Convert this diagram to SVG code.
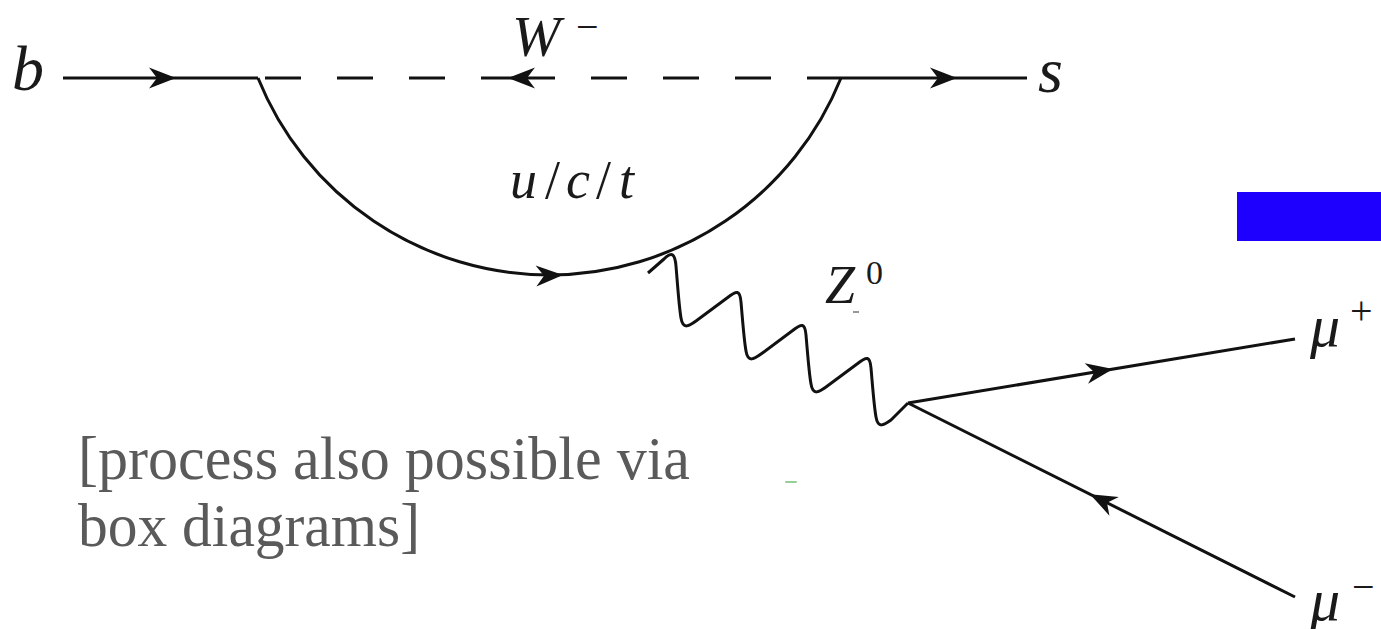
<svg xmlns="http://www.w3.org/2000/svg" xmlns:xlink="http://www.w3.org/1999/xlink" width="1381" height="629" viewBox="0 0 1381 629">
<style>
.ln{fill:none;stroke:#111;stroke-width:3;stroke-linecap:butt;stroke-linejoin:round}
.ah{fill:#111;stroke:none}
text{font-family:'Liberation Serif','Times New Roman',serif}
.m{font-style:italic;fill:#1a1a1a}
.up{font-style:normal;fill:#1a1a1a}
.note{fill:#5a5a5a;font-size:62px}
</style>
<defs>
<path id="ah" d="M0,0 L-27,-10.5 L-19,0 L-27,10.5 Z"/>
</defs>
<rect width="1381" height="629" fill="#fff"/>
<g id="connectors">
<line class="ln" x1="63" y1="78" x2="258" y2="78"/>
<line class="ln" x1="841" y1="78" x2="1027" y2="78"/>
<path class="ln" d="M265,78 H301 M337,78 H373 M409,78 H445 M481,78 H555 M591,78 H627 M663,78 H699 M735,78 H771 M807,78 H841"/>
<path class="ln" d="M258,78 A314.2,314.2 0 0 0 841,78"/>
<path class="ln" d="M648,273 L664,259 C672,251 675,254 676,266 C678,290 679,306 681,318 C683,330 689,326 696,321 L727,298 C737,290 740,290 741,302 C743,325 744,340 746,351 C748,363 754,359 761,354 L792,331 C802,323 805,323 806,335 C808,358 809,373 811,384 C813,396 819,392 826,387 L857,364 C867,356 870,356 871,368 C873,391 874,406 876,417 C878,429 884,425 891,420 L908,403"/>
<line class="ln" x1="908" y1="403" x2="1295" y2="339"/>
<line class="ln" x1="908" y1="403" x2="1295" y2="597"/>
<use class="ah" xlink:href="#ah" transform="translate(176,78)"/>
<use class="ah" xlink:href="#ah" transform="translate(508,78) rotate(180)"/>
<use class="ah" xlink:href="#ah" transform="translate(957,78)"/>
<use class="ah" xlink:href="#ah" transform="translate(563,274.9) rotate(-2.3)"/>
<use class="ah" xlink:href="#ah" transform="translate(1113,369.1) rotate(-9.4)"/>
<use class="ah" xlink:href="#ah" transform="translate(1090,494.2) rotate(206.6)"/>
</g>
<g id="label-b"><text class="m" x="12" y="90" font-size="64">b</text></g>
<g id="label-W"><text class="m" x="512" y="56" font-size="58">W</text><text class="up" x="576" y="40" font-size="40">−</text></g>
<g id="label-s"><text class="m" x="1038" y="92" font-size="64">s</text></g>
<g id="label-uct"><text x="510" y="198" font-size="54"><tspan class="m">u</tspan><tspan class="up" dx="8">/</tspan><tspan class="m" dx="6">c</tspan><tspan class="up" dx="6">/</tspan><tspan class="m" dx="8">t</tspan></text></g>
<g id="label-Z"><text class="m" x="825" y="303" font-size="54">Z</text><text class="up" x="866" y="284" font-size="34">0</text><rect x="853" y="311" width="6" height="2" fill="#999"/></g>
<g id="label-mup"><text class="m" x="1310" y="346" font-size="60">μ</text><text class="up" x="1350" y="324" font-size="40">+</text></g>
<g id="label-mum"><text class="m" x="1310" y="620" font-size="60">μ</text><text class="up" x="1352" y="600" font-size="40">−</text></g>
<g id="blue-box"><rect x="1237" y="192" width="144" height="49" fill="#1e00ff"/></g>
<g id="note">
<text class="note" x="78" y="479" textLength="612" lengthAdjust="spacingAndGlyphs">[process also possible via</text>
<text class="note" x="78" y="546" textLength="342" lengthAdjust="spacingAndGlyphs">box diagrams]</text>
<rect x="785" y="481" width="12" height="2" rx="1" fill="#4caf50" opacity="0.6"/>
</g>
</svg>
